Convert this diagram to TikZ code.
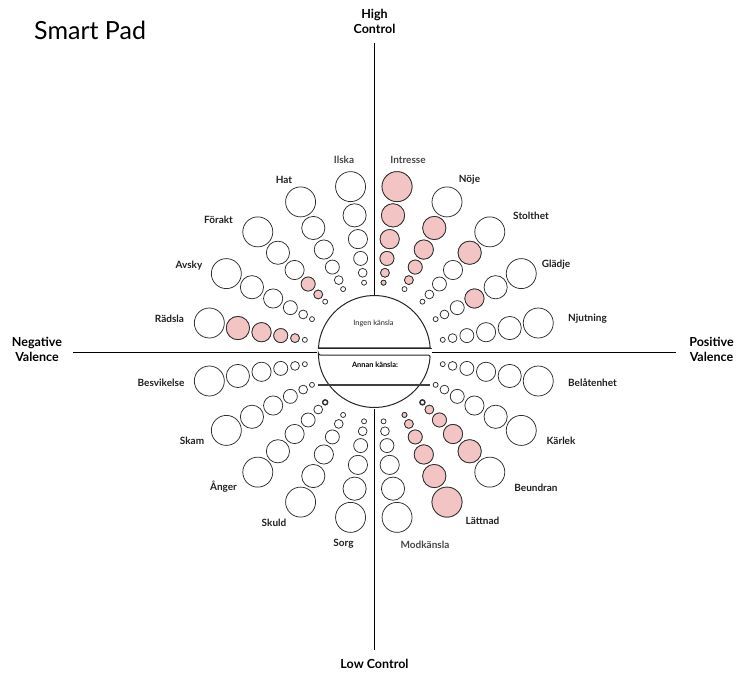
\documentclass[tikz,border=0pt]{standalone}
\usepackage{fontspec}
\setmainfont{Lato}
\definecolor{padpink}{RGB}{242,196,196}
\definecolor{ringgray}{RGB}{45,45,45}
\begin{document}
\begin{tikzpicture}[x=1pt,y=-1pt,
  ring/.style={draw=ringgray,line width=0.75pt,fill=white},
  hot/.style={draw=ringgray,line width=0.75pt,fill=padpink},
  marked/.style={draw=black!80,line width=1.4pt,fill=white},
  axis/.style={draw=black,line width=1pt},
  emo/.style={font=\fontsize{10}{11}\selectfont\bfseries,text=black!88,inner sep=0pt},
  soft/.style={emo,text=black!72},
  axislabel/.style={font=\fontsize{12.5}{15}\selectfont\bfseries,align=center,inner sep=0pt},
]
\useasboundingbox (0,0) rectangle (739,678);

% centre of the wheel and of the middle disc
\coordinate (c) at (373.8,352);
\coordinate (m) at (374.3,351.5);

% axes
\coordinate (vt) at (374.3,43);
\coordinate (vb) at (374.3,650);
\coordinate (hl) at (73,352);
\coordinate (hr) at (676,352);
\coordinate (dtop) at (374.3,295.5);
\coordinate (dbot) at (374.3,409);
\coordinate (dl) at (317,352);
\coordinate (dr) at (432,352);
\draw[axis] (vt) -- (dtop);
\draw[axis] (dbot) -- (vb);
\draw[axis] (hl) -- (dl);
\draw[axis] (dr) -- (hr);

% rings on every spoke: distance/radius from outer to inner
\foreach \a in {10,28,46,64,82,98,116,134,152,170,-10,-28,-46,-64,-82,-98,-116,-134,-152,-170}{
  \foreach \d/\r in {167/15,138/11.6,114/9.6,94.5/7,80/4.4,70/2.5}{
    \draw[ring] ([shift={(\a:\d pt)}]c) circle[radius=\r pt];
  }
}

% selected rings
\foreach \a/\i in {28/3,46/2,64/2,64/3,64/4,64/5,
                   82/1,82/2,82/3,82/4,82/5,82/6,
                   134/4,134/5,170/2,170/3,170/4,170/5,
                   -64/1,-64/2,-64/3,-64/4,-64/5,-64/6,
                   -46/2,-46/3,-46/4,-46/5}{
  \pgfmathsetmacro\dd{{167,138,114,94.5,80,70}[\i-1]}
  \pgfmathsetmacro\rr{{15,11.6,9.6,7,4.4,2.5}[\i-1]}
  \draw[hot] ([shift={(\a:\dd pt)}]c) circle[radius=\rr pt];
}
\foreach \a in {-134,-46}{
  \draw[marked] ([shift={(\a:70pt)}]c) circle[radius=2.5pt];
}

% middle disc: upper dome and lower bowl
\draw[fill=white,draw=black!85,line width=1pt]
  ([shift={(176.4:56pt)}]m) arc[start angle=176.4,end angle=3.6,radius=56pt] -- cycle;
\draw[draw=black!85,line width=1.7pt] (317.5,348.5) -- (431.5,348.5);
\draw[fill=white,draw=black!85,line width=1pt,rounded corners=2pt]
  ([shift={(-176.4:56pt)}]m) -- ([shift={(-3.6:56pt)}]m)
  arc[start angle=-3.6,end angle=-176.4,radius=56pt] -- cycle;
\coordinate (wl) at (318,385);
\coordinate (wr) at (430,385);
\draw[draw=black!75,line width=2pt] (wl) -- (wr);
\node[font=\fontsize{7.4}{8}\selectfont,text=black!85,inner sep=0pt] (ingen) at (373.5,323.5) {Ingen känsla};
\node[font=\fontsize{7.4}{8}\selectfont\bfseries,inner sep=0pt] (annan) at (375,364.5) {Annan känsla:};

% emotion labels
\node[soft] (ilska) at (344,160) {Ilska};
\node[emo] (hat) at (284,179.5) {Hat};
\node[emo] (forakt) at (218.5,219.5) {Förakt};
\node[emo] (avsky) at (189,266) {Avsky};
\node[emo] (radsla) at (169.5,318.5) {Rädsla};
\node[soft] (intresse) at (408,160) {Intresse};
\node[emo] (noje) at (469.5,180) {Nöje};
\node[emo] (stolthet) at (531,216) {Stolthet};
\node[emo] (gladje) at (556,265) {Glädje};
\node[emo] (njutning) at (587.5,319) {Njutning};
\node[emo] (besvikelse) at (161,383.3) {Besvikelse};
\node[emo] (skam) at (192,440.5) {Skam};
\node[emo] (anger) at (223.5,487) {Ånger};
\node[emo] (skuld) at (274,523) {Skuld};
\node[emo] (sorg) at (343.5,544) {Sorg};
\node[soft] (modkansla) at (425,544.5) {Modkänsla};
\node[emo] (lattnad) at (482.5,521) {Lättnad};
\node[emo] (beundran) at (536,487.5) {Beundran};
\node[emo] (karlek) at (561,441) {Kärlek};
\node[emo] (belatenhet) at (592.5,383) {Belåtenhet};

% axis labels and title
\node[axislabel] (high) at (374.5,21.5) {High\\Control};
\node[axislabel] (low) at (374.5,663.5) {Low Control};
\node[axislabel] (neg) at (37,349) {Negative\\Valence};
\node[axislabel] (pos) at (711.5,349) {Positive\\Valence};
\node[font=\fontsize{25}{28}\selectfont,anchor=west,inner sep=0pt] (title) at (34,30.5) {Smart Pad};
\end{tikzpicture}
\end{document}
